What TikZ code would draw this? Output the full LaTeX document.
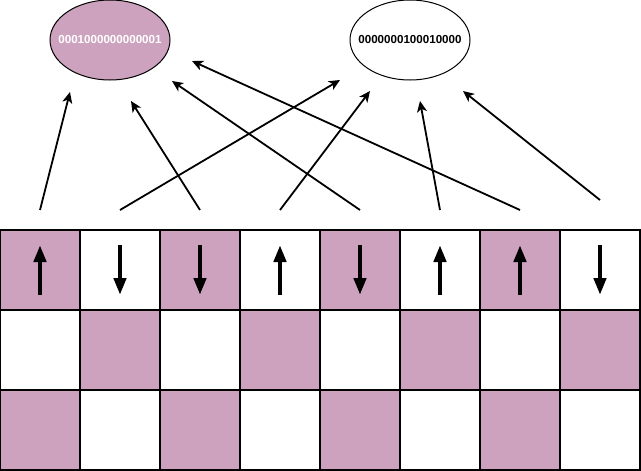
\documentclass[tikz,border=0pt]{standalone}
\usepackage{fontspec}
\setmainfont{Liberation Sans}
\usetikzlibrary{arrows.meta,calc,positioning,shapes.geometric}
\definecolor{spinpink}{HTML}{CDA2BE}

\begin{document}
\begin{tikzpicture}[
    x=1pt, y=-1pt,
    state/.style={ellipse,draw,line width=1pt,minimum width=120pt,minimum height=80pt,
        inner xsep=-25pt,inner ysep=0pt,
        font=\fontsize{11.6}{13}\selectfont\bfseries},
    cell/.style={draw,line width=1.5pt,minimum size=80pt,inner sep=0pt},
    link/.style={draw,line width=1.8pt,-{Stealth[length=11pt,width=10pt,inset=3pt]}},
    spin/.style={line width=4.5pt,-{Triangle[length=17pt,width=12pt]}}
]
    \useasboundingbox (0,0) rectangle (641,471);

    % encoded states
    \node[state,fill=spinpink,text=white] (sa) at (110,40) {0001000000000001};
    \node[state,fill=white] (sb) at (410,40) {0000000100010000};

    % lattice
    \foreach \r in {0,1,2}
      \foreach \c in {0,...,7} {
        \pgfmathtruncatemacro\odd{mod(\r+\c,2)}
        \ifnum\odd=0 \def\cellfill{spinpink}\else\def\cellfill{white}\fi
        \node[cell,fill=\cellfill] (c\r\c) at (40+80*\c,270+80*\r) {};
      }

    % spins
    \foreach \c/\dir in {0/1,1/-1,2/-1,3/1,4/-1,5/1,6/1,7/-1}
      \draw[spin] ($(c0\c)+(0,25*\dir)$) -- ($(c0\c)+(0,-25*\dir)$);

    % connectors
    \foreach \c in {0,...,6}
      \coordinate (s\c) at (40+80*\c,210);
    \coordinate (s7) at (600,200);
    \coordinate (t0) at (70,92);
    \coordinate (t1) at (340,80);
    \coordinate (t2) at (131,101);
    \coordinate (t3) at (370,91);
    \coordinate (t4) at (172,81);
    \coordinate (t5) at (420,101);
    \coordinate (t6) at (192,61);
    \coordinate (t7) at (463,91);
    \foreach \c in {0,...,7}
      \draw[link] (s\c) -- (t\c);

\end{tikzpicture}
\end{document}
